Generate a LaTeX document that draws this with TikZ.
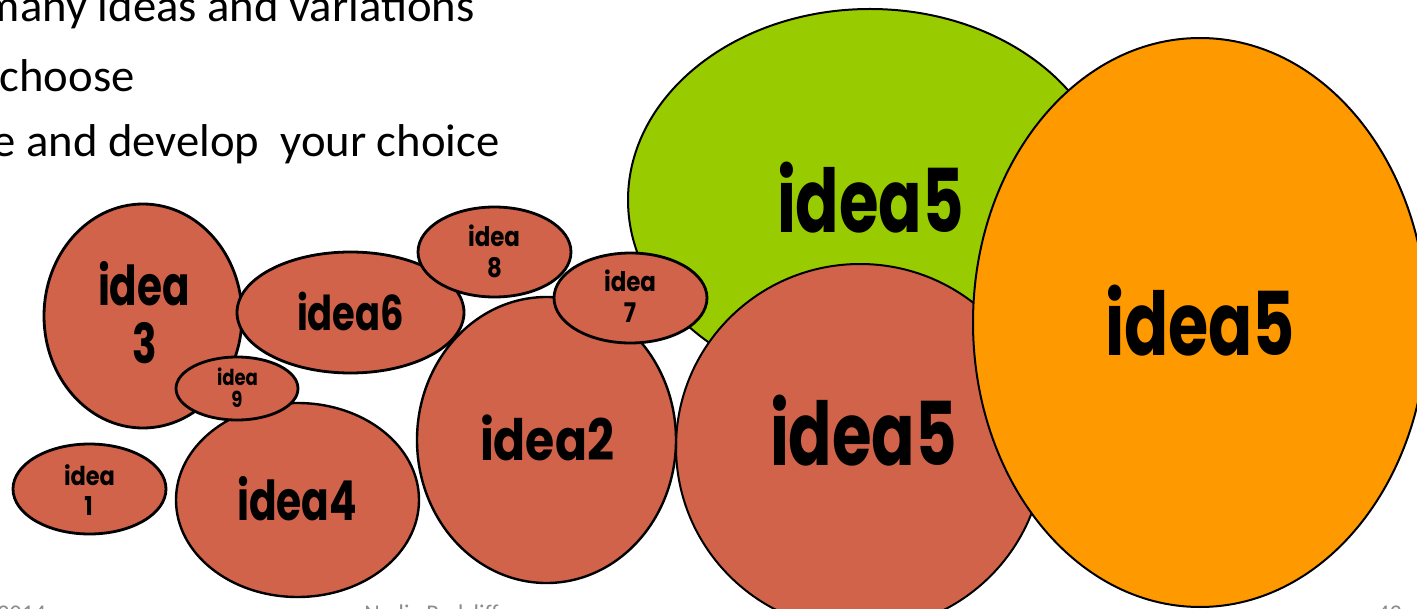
\documentclass[tikz,border=0pt]{standalone}
\usepackage{fontspec}
\setmainfont{Carlito}
\newfontfamily\comic{Poppins}
\usepackage{graphicx}
\usetikzlibrary{shapes.geometric}
\definecolor{ired}{HTML}{D1634A}
\definecolor{igreen}{HTML}{99CC00}
\definecolor{iorange}{HTML}{FF9900}
\definecolor{foot}{HTML}{8C8C8C}
\newlength\tmplen
% #1 name, #2 target width (pt), #3 font size (pt), #4 sample text
\newcommand\mkfac[4]{%
  \settowidth\tmplen{\comic\bfseries\fontsize{#3}{#3}\selectfont #4}%
  \pgfmathsetmacro\tmpr{#2/\tmplen}\global\expandafter\let\csname #1\endcsname\tmpr}
\newcommand\mkbfac[4]{%
  \settowidth\tmplen{\fontsize{#3}{#3}\selectfont #4}%
  \pgfmathsetmacro\tmpr{#2/\tmplen}\global\expandafter\let\csname #1\endcsname\tmpr}
\newcommand\lbl[3]{\scalebox{#1}[1]{\comic\bfseries\fontsize{#2}{#2}\selectfont #3}}
\newcommand\btxt[3]{\scalebox{#1}[1]{\fontsize{#2}{#2}\selectfont #3}}
\tikzset{
  blob/.style={ellipse, draw=black, fill=ired, line width=1.4pt, inner sep=0pt, outer sep=0pt},
  bigblob/.style={blob, line width=1pt},
  lab/.style={anchor=base, inner sep=0pt, text=black},
  bul/.style={anchor=base east, inner sep=0pt, text=black},
  ft/.style={anchor=base west, inner sep=0pt, text=foot, font=\fontsize{12}{12}\selectfont}
}
\begin{document}
\mkbfac{fb}{67.5}{23}{choose}%
\mkfac{fbig}{93.5}{44}{idea5}%
\mkfac{fo}{95}{44}{idea5}%
\mkfac{fthree}{46}{27.5}{idea}%
\mkfac{fsix}{53.5}{24}{idea6}%
\mkfac{ftwo}{67}{28.5}{idea2}%
\mkfac{ffour}{60}{27.5}{idea4}%
\mkfac{fnine}{20.5}{11}{idea}%
\mkfac{fone}{25.5}{13}{idea}%
\mkfac{feight}{26}{13.5}{idea}%
\begin{tikzpicture}[x=0.5pt,y=-0.5pt]
\useasboundingbox (0,0) rectangle (1417,609);
\begin{scope}
\clip (0,0) rectangle (1417,609);
% bullet text
\node[bul] (b1) at (475,22) {\btxt{\fb}{23}{many ideas and variations}};
\node[bul] (b2) at (135,92) {\btxt{\fb}{23}{choose}};
\node[bul] (b3) at (500,157) {\btxt{\fb}{23}{e and develop\ \ your choice}};
% big ellipses
\node[bigblob, fill=igreen, minimum width=242pt, minimum height=191pt] (g5) at (870,200) {};
\node[bigblob, minimum width=184pt, minimum height=183pt] (r5) at (860,447) {};
\node[bigblob, fill=iorange, minimum width=227pt, minimum height=284.5pt] (o5) at (1200,322.5) {};
% smaller ellipses
\node[blob, minimum width=99pt, minimum height=112pt] (e3) at (143,316) {};
\node[blob, minimum width=113.5pt, minimum height=60.5pt] (e6) at (350.5,312.5) {};
\node[blob, minimum width=76.5pt, minimum height=45pt] (e8) at (494.5,252) {};
\node[blob, line width=1.2pt, minimum width=129.5pt, minimum height=143pt] (e2) at (546.5,440) {};
\node[blob, minimum width=76.5pt, minimum height=45pt] (e7) at (630.5,298) {};
\node[blob, line width=1.2pt, minimum width=121.5pt, minimum height=97pt] (e4) at (297.5,500) {};
\node[blob, minimum width=61pt, minimum height=31.5pt] (e9) at (237,388.5) {};
\node[blob, minimum width=76.5pt, minimum height=45pt] (e1) at (89.5,489) {};
% labels
\node[lab] (tg5) at (870.5,233) {\lbl{\fbig}{44}{idea5}};
\node[lab] (tr5) at (863.5,465) {\lbl{\fbig}{44}{idea5}};
\node[lab] (to5) at (1200,355) {\lbl{\fo}{44}{idea5}};
\node[lab] (t3a) at (144,305) {\lbl{\fthree}{27.5}{idea}};
\node[lab] (t3b) at (144.5,363) {\lbl{\fthree}{27.5}{3}};
\node[lab] (t6) at (350.5,330) {\lbl{\fsix}{24}{idea6}};
\node[lab] (t2) at (547,460) {\lbl{\ftwo}{28.5}{idea2}};
\node[lab] (t4) at (297,520) {\lbl{\ffour}{27.5}{idea4}};
\node[lab] (t9a) at (237.5,385) {\lbl{\fnine}{11}{idea}};
\node[lab] (t9b) at (237,407) {\lbl{\fnine}{11}{9}};
\node[lab] (t1a) at (89.5,485) {\lbl{\fone}{13}{idea}};
\node[lab] (t1b) at (88.5,515) {\lbl{\fone}{13}{1}};
\node[lab] (t8a) at (494,247) {\lbl{\feight}{13.5}{idea}};
\node[lab] (t8b) at (494.5,278) {\lbl{\feight}{13.5}{8}};
\node[lab] (t7a) at (630,291) {\lbl{\feight}{13.5}{idea}};
\node[lab] (t7b) at (630,322) {\lbl{\feight}{13.5}{7}};
% footer
\node[ft] (f1) at (-3,621) {2014};
\node[ft] (f2) at (364,621) {Nadia Radcliffe};
\node[ft] (f3) at (1377,621) {43};
\end{scope}
\end{tikzpicture}
\end{document}
